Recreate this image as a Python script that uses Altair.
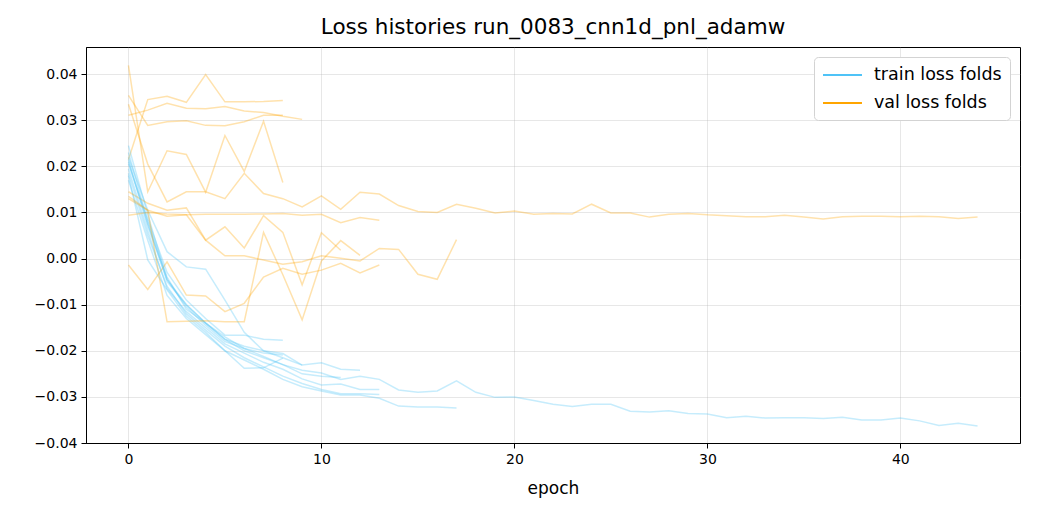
import altair as alt
import pandas as pd

# ---- data (loss per epoch, one list per fold) ----
train_fold1 = [0.0205, 0.0085, -0.0030, -0.0090, -0.0130, -0.0166, -0.0166, -0.0175, -0.0177]
val_fold1 = [0.0215, 0.0345, 0.0352, 0.0339, 0.0399, 0.0340, 0.0340, 0.0341, 0.0343]

train_fold2 = [0.0220, 0.0105, 0.0015, -0.0018, -0.0023, -0.0090, -0.0160, -0.0200, -0.0215, -0.0231]
val_fold2 = [0.0311, 0.0322, 0.0337, 0.0326, 0.0325, 0.0330, 0.0320, 0.0317, 0.0309, 0.0302]

train_fold3 = [0.0180, -0.0003, -0.0068, -0.0125, -0.0160, -0.0200, -0.0238, -0.0237, -0.0216]
val_fold3 = [0.0354, 0.0289, 0.0297, 0.0299, 0.0289, 0.0288, 0.0297, 0.0311, 0.0311]

train_fold4 = [0.0245, 0.0095, -0.0045, -0.0105, -0.0145, -0.0180, -0.0195, -0.0205, -0.0209]
val_fold4 = [0.0419, 0.0145, 0.0234, 0.0226, 0.0144, 0.0267, 0.0189, 0.0298, 0.0165]

train_fold5 = [0.0195, 0.0060, -0.0065, -0.0115, -0.0150, -0.0185, -0.0205, -0.0225, -0.0240,
               -0.0261, -0.0274, -0.0272, -0.0284, -0.0284]
val_fold5 = [0.0130, 0.0105, 0.0092, 0.0095, 0.0096, 0.0096, 0.0096, 0.0097, 0.0098,
             0.0094, 0.0096, 0.0078, 0.0089, 0.0083]

train_fold6 = [0.0170, 0.0040, -0.0080, -0.0130, -0.0165, -0.0200, -0.0220, -0.0240, -0.0262,
               -0.0278, -0.0287, -0.0296, -0.0296, -0.0303, -0.0320, -0.0322, -0.0322, -0.0324]
val_fold6 = [0.0145, 0.0120, 0.0105, 0.0110, 0.0040, 0.0006, 0.0006, -0.0003, -0.0012,
             -0.0007, 0.0006, 0.0001, -0.0005, 0.0022, 0.0020, -0.0034, -0.0045, 0.0041]

train_fold7 = [0.0215, 0.0070, -0.0045, -0.0100, -0.0140, -0.0175, -0.0200, -0.0215, -0.0230,
               -0.0242, -0.0248, -0.0262, -0.0255, -0.0262, -0.0285, -0.0290, -0.0287, -0.0265,
               -0.0290, -0.0301, -0.0300, -0.0308, -0.0316, -0.0321, -0.0316, -0.0316, -0.0331,
               -0.0333, -0.0330, -0.0336, -0.0337, -0.0345, -0.0342, -0.0346, -0.0345, -0.0345,
               -0.0347, -0.0344, -0.0350, -0.0350, -0.0346, -0.0352, -0.0362, -0.0357, -0.0363]
val_fold7 = [0.0335, 0.0205, 0.0123, 0.0145, 0.0145, 0.0130, 0.0185, 0.0141, 0.0130,
             0.0112, 0.0136, 0.0107, 0.0144, 0.0140, 0.0115, 0.0102, 0.0100, 0.0118,
             0.0109, 0.0099, 0.0103, 0.0096, 0.0098, 0.0097, 0.0118, 0.0099, 0.0099,
             0.0090, 0.0096, 0.0098, 0.0095, 0.0093, 0.0091, 0.0091, 0.0094, 0.0090,
             0.0086, 0.0091, 0.0092, 0.0092, 0.0091, 0.0092, 0.0091, 0.0087, 0.0090]

train_fold8 = [0.0185, 0.0050, -0.0060, -0.0120, -0.0155, -0.0190, -0.0215, -0.0235, -0.0255,
               -0.0271, -0.0284, -0.0293, -0.0293, -0.0295]
val_fold8 = [-0.0014, -0.0067, -0.0007, -0.0079, -0.0081, -0.0115, -0.0097, -0.0040, -0.0021,
             -0.0034, -0.0025, -0.0010, -0.0031, -0.0014]

train_fold9 = [0.0230, 0.0080, -0.0050, -0.0100, -0.0140, -0.0170, -0.0195, -0.0212, -0.0230,
               -0.0250, -0.0255, -0.0258]
val_fold9 = [0.0094, 0.0100, 0.0097, 0.0095, 0.0040, 0.0069, 0.0023, 0.0093, 0.0057,
             -0.0057, 0.0056, 0.0018]

train_fold10 = [0.0210, 0.0075, -0.0040, -0.0110, -0.0140, -0.0175, -0.0190, -0.0200, -0.0206,
                -0.0231, -0.0226, -0.0240, -0.0242]
val_fold10 = [0.0135, 0.0105, -0.0137, -0.0136, -0.0135, -0.0137, -0.0137, 0.0057, -0.0035,
              -0.0133, -0.0005, 0.0039, 0.0007]

series_names = ["train loss folds", "val loss folds"]
x_ticks = [0, 10, 20, 30, 40]
y_ticks = [-0.04, -0.03, -0.02, -0.01, 0.0, 0.01, 0.02, 0.03, 0.04]

folds = [
    (train_fold1, val_fold1), (train_fold2, val_fold2), (train_fold3, val_fold3),
    (train_fold4, val_fold4), (train_fold5, val_fold5), (train_fold6, val_fold6),
    (train_fold7, val_fold7), (train_fold8, val_fold8), (train_fold9, val_fold9),
    (train_fold10, val_fold10),
]

rows = []
order = 0
for i, (tr, va) in enumerate(folds):
    for name, vals in ((series_names[0], tr), (series_names[1], va)):
        for e, v in enumerate(vals):
            rows.append({"epoch": e, "loss": v, "kind": name,
                         "line": f"{name}-{i}", "ord": order})
        order += 1
df = pd.DataFrame(rows)

FONT = "DejaVu Sans"

lines = alt.Chart(df).mark_line(opacity=0.32, strokeWidth=1.5).encode(
    x=alt.X("epoch:Q",
            scale=alt.Scale(domain=[-2.2, 46.2], nice=False, zero=False),
            axis=alt.Axis(values=x_ticks, title="epoch", format="d")),
    y=alt.Y("loss:Q",
            scale=alt.Scale(domain=[-0.04, 0.0459], nice=False, zero=False),
            axis=alt.Axis(values=y_ticks, title=None,
                          labelExpr="replace(format(datum.value, '.2f'), '-', '\u2212')")),
    color=alt.Color("kind:N",
                    scale=alt.Scale(domain=series_names, range=["#4fc3f7", "#ffa500"]),
                    legend=alt.Legend(title=None, orient="top-right", offset=10,
                                      symbolOpacity=1, symbolStrokeWidth=2,
                                      symbolType="M-1,0L3.33,0", symbolSize=324,
                                      labelOffset=32, labelFontSize=17.5, labelFont=FONT,
                                      labelColor="black", rowPadding=9, padding=8,
                                      fillColor="white", strokeColor="#d3d3d3",
                                      cornerRadius=4)),
    detail="line:N",
    order="ord:Q",
)

chart = lines.properties(
    width=934, height=396,
    background="white",
    title=alt.TitleParams("Loss histories run_0083_cnn1d_pnl_adamw", fontSize=21.5,
                          fontWeight="normal", font=FONT, color="black", offset=9),
    autosize=alt.AutoSizeParams(type="none"),
    padding={"left": 78, "top": 39, "right": 12, "bottom": 66},
).configure_view(
    stroke="black", strokeWidth=1
).configure_axis(
    labelFont=FONT, labelFontSize=14, labelColor="black",
    titleFont=FONT, titleFontSize=17, titleColor="black", titleFontWeight="normal",
    domainColor="black", domainWidth=1,
    tickColor="black", tickSize=5, tickWidth=1, labelPadding=4,
    grid=True, gridColor="#b0b0b0", gridOpacity=0.3, gridWidth=1,
).configure_axisX(titlePadding=14)

chart.save("out.html", embed_options={"renderer": "svg", "actions": False})
